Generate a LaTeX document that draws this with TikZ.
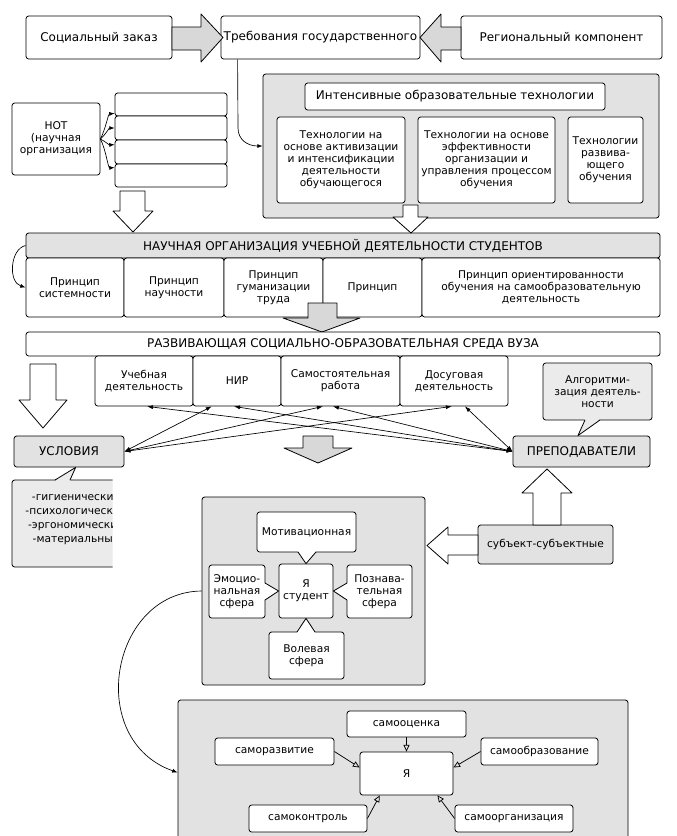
\documentclass[tikz,border=0pt]{standalone}
\usepackage{fontspec}
\setmainfont{DejaVu Sans}
\usetikzlibrary{arrows.meta,calc}
\definecolor{gA}{HTML}{E2E2E2}
\definecolor{gB}{HTML}{D8D8D8}
\definecolor{gC}{HTML}{EBEBEB}
\newcommand\fs{\fontsize{8}{9}\selectfont}
\newcommand\fb{\fontsize{9}{10}\selectfont}
\newcommand\bx[7]{\node[#1, minimum width={(#4-#2)*0.75pt}, minimum height={(#5-#3)*0.75pt}] (#6) at ({(#2+#4)/2},{(#3+#5)/2}) {#7};}
\begin{document}
\begin{tikzpicture}[x=0.75pt, y=-0.75pt, line join=round,
  bxw/.style={draw, line width=0.6pt, rounded corners=2pt, fill=white, align=center, inner sep=0pt, font=\fs},
  bxg/.style={bxw, fill=gA},
  bxc/.style={bxw, fill=gC},
  arr/.style={-{Latex[length=4pt,width=3pt]}, line width=0.5pt},
  dar/.style={{Latex[length=4.5pt,width=3pt]}-{Latex[length=4.5pt,width=3pt]}, line width=0.5pt},
  oar/.style={-{Triangle[open,length=5pt,width=4.5pt]}, line width=0.55pt},
  blk/.style={draw, line width=0.6pt, fill=gB},
  wblk/.style={blk, fill=white},
  tl/.style={line width=0.6pt}]
\useasboundingbox (0,0) rectangle (676,836);
\fill[white] (0,0) rectangle (676,836);

% top row
\bx{bxw,font=\fb}{26}{16}{172}{59}{soc}{Социальный заказ}
\bx{bxw,font=\fb}{221}{16}{420}{59}{treb}{Требования государственного}
\bx{bxw,font=\fb}{461}{16}{662}{59}{reg}{Региональный компонент}
\draw[blk] (172,27) -- (201,27) -- (201,14) -- (223,37.5) -- (201,62) -- (201,50) -- (172,50) -- cycle;
\draw[blk] (461,27) -- (441,27) -- (441,14) -- (420,37.5) -- (441,62) -- (441,50) -- (461,50) -- cycle;

% intensive technologies
\bx{bxg}{263}{74}{659}{218}{intens}{}
\bx{bxw,font=\fb}{305}{83}{605}{110}{ihead}{Интенсивные образовательные технологии}
\bx{bxw}{277}{117}{405}{203}{t1}{Технологии на\\основе активизации\\и интенсификации\\деятельности\\обучающегося}
\bx{bxw}{418}{117}{555}{203}{t2}{Технологии на основе\\эффективности\\организации и\\управления процессом\\обучения}
\bx{bxw}{568}{117}{643}{203}{t3}{Технологии\\развива-\\ющего\\обучения}
\draw[arr] ($(treb.south west)!0.085!(treb.south east)$) -- (238,128) .. controls (238,140) and (248,146) .. (intens.west);

% NOT
\bx{bxw}{12}{103}{100}{175}{not}{НОТ\\(научная\\организация}
\bx{bxw}{115}{93}{227}{116}{s1}{}
\bx{bxw}{115}{116}{227}{140}{s2}{}
\bx{bxw}{115}{140}{227}{164}{s3}{}
\bx{bxw}{115}{164}{227}{187}{s4}{}
\draw[arr] (not.east) .. controls (106,128) and (108,114) .. ($(s1.south west)+(0,-3)$);
\draw[arr] (not.east) .. controls (106,134) and (109,128) .. (s2.west);
\draw[arr] (not.east) .. controls (106,142) and (109,145) .. ($(s3.north west)+(0,5)$);
\draw[arr] (not.east) .. controls (106,150) and (108,168) .. ($(s4.north west)+(0,4)$);

% NOUDS
\bx{bxg,font=\fb}{26}{233}{660}{258}{nouds}{НАУЧНАЯ ОРГАНИЗАЦИЯ УЧЕБНОЙ ДЕЯТЕЛЬНОСТИ СТУДЕНТОВ}
\bx{bxw}{26}{258}{124}{317}{p1}{Принцип\\системности}
\bx{bxw}{124}{258}{224}{317}{p2}{Принцип\\научности}
\bx{bxw}{224}{258}{323}{317}{p3}{Принцип\\гуманизации\\труда}
\bx{bxw}{323}{258}{422}{317}{p4}{Принцип}
\bx{bxw}{422}{258}{660}{317}{p5}{Принцип ориентированности\\обучения на самообразовательную\\деятельность}
\draw[arr] (nouds.west) .. controls (10,249) and (8,282) .. (p1.west);
\draw[wblk] (120,191) -- (145,191) -- (145,211) -- (153,211) -- (133,232) -- (113,211) -- (120,211) -- cycle;
\draw[wblk] (403,205) -- (418,205) -- (418,217) -- (428,217) -- (411,233) -- (393,217) -- (403,217) -- cycle;
\draw[blk] (308,303) -- (337,303) -- (337,318) -- (360,318) -- (322,332) -- (283,318) -- (308,318) -- cycle;

% RAZV
\bx{bxw,font=\fb}{26}{332}{660}{356}{razv}{РАЗВИВАЮЩАЯ СОЦИАЛЬНО-ОБРАЗОВАТЕЛЬНАЯ СРЕДА ВУЗА}
\bx{bxw}{95}{356}{193}{406}{uch}{Учебная\\деятельность}
\bx{bxw}{193}{356}{281}{406}{nir}{НИР}
\bx{bxw}{281}{356}{400}{406}{sam}{Самостоятельная\\работа}
\bx{bxw}{400}{356}{508}{406}{dos}{Досуговая\\деятельность}

\bx{bxg,font=\fb}{14}{436}{124}{467}{usl}{УСЛОВИЯ}
\bx{bxg,font=\fb}{513}{436}{650}{467}{prep}{ПРЕПОДАВАТЕЛИ}
\bx{bxc}{543}{363}{652}{420}{alg}{Алгоритми-\\зация деятель-\\ности}
\fill[gC] (585,419) -- ($(prep.north west)!0.474!(prep.north east)$) -- (600,419) -- cycle;
\draw[tl] (585,420) -- ($(prep.north west)!0.474!(prep.north east)$) -- (600,420);

\draw[wblk] (30,364) -- (56,364) -- (56,400) -- (67,400) -- (43,428) -- (19,400) -- (30,400) -- cycle;
\draw[blk] (303,436) -- (333,436) -- (333,448) -- (352,448) -- (318,463) -- (284,448) -- (303,448) -- cycle;

\draw[dar] (usl.east) -- ($(nir.south west)!0.216!(nir.south east)$);
\draw[dar] (usl.east) -- ($(sam.south west)!0.353!(sam.south east)$);
\draw[dar] (usl.east) -- ($(dos.south west)!0.48!(dos.south east)$);
\draw[dar] (prep.west) -- ($(uch.south west)!0.53!(uch.south east)$);
\draw[dar] (prep.west) -- ($(nir.south west)!0.466!(nir.south east)$);
\draw[dar] (prep.west) -- ($(sam.south west)!0.437!(sam.south east)$);
\draw[dar] (prep.west) -- ($(dos.south west)!0.60!(dos.south east)$);

% conditions list
\begin{scope}
\clip (0,470) rectangle (112.5,575);
\bx{bxc}{12}{480}{150}{567}{ulist}{}
\node[font=\fontsize{8}{10.5}\selectfont, align=center, inner sep=0pt] (ultext) at (76,520) {-гигиенические\\-психологические\\-эргономические\\-материальные};
\end{scope}
\fill[gC] (55,481) -- ($(usl.south west)!0.56!(usl.south east)$) -- (70,481) -- cycle;
\draw[tl] (55,480) -- ($(usl.south west)!0.56!(usl.south east)$) -- (70,480);

% student box
\bx{bxg}{202}{497}{425}{685}{gst}{}
\bx{bxw}{257}{512}{356}{552}{mot}{Мотивационная}
\bx{bxw}{279}{564}{333}{618}{ys}{Я\\студент}
\bx{bxw}{209}{565}{265}{618}{emo}{Эмоцио-\\нальная\\сфера}
\bx{bxw}{347}{565}{412}{618}{pozn}{Познава-\\тельная\\сфера}
\bx{bxw}{269}{632}{344}{679}{vol}{Волевая\\сфера}
\fill[white] (298,551) -- (ys.north) -- (316,551) -- cycle;
\draw[tl] (298,552) -- (ys.north) -- (316,552);
\fill[white] (264,583) -- (ys.west) -- (264,600) -- cycle;
\draw[tl] (265,583) -- (ys.west) -- (265,600);
\fill[white] (348,583) -- (ys.east) -- (348,600) -- cycle;
\draw[tl] (347,583) -- (ys.east) -- (347,600);
\fill[white] (297,633) -- (ys.south) -- (315,633) -- cycle;
\draw[tl] (297,632) -- (ys.south) -- (315,632);

\bx{bxg}{478}{525}{613}{564}{subj}{субъект-субъектные}
\draw[wblk] (478,535) -- (448,535) -- (448,527) -- (427,545.5) -- (448,564) -- (448,555) -- (478,555) -- cycle;
\draw[wblk] (533,525) -- (533,493) -- (522,493) -- (547,469) -- (572,493) -- (561,493) -- (561,525) -- cycle;

% self box
\bx{bxg}{178}{700}{628}{845}{selfb}{}
\draw[arr] (gst.west) .. controls (110,592) and (85,740) .. (selfb.west);
\bx{bxw}{347}{711}{466}{737}{ocen}{самооценка}
\bx{bxw}{215}{738}{334}{765}{razvit}{саморазвитие}
\bx{bxw}{481}{738}{598}{765}{obraz}{самообразование}
\bx{bxw}{360}{752}{453}{795}{ya}{Я}
\bx{bxw}{249}{805}{367}{832}{kontr}{самоконтроль}
\bx{bxw}{455}{805}{573}{832}{org}{самоорганизация}
\draw[oar] (ocen.south) -- (ya.north);
\draw[oar] (razvit.east) -- ($(ya.west)+(0,-6)$);
\draw[oar] (obraz.west) -- ($(ya.east)+(0,-6)$);
\draw[oar] (kontr.east) -- ($(ya.south west)!0.215!(ya.south east)$);
\draw[oar] (org.west) -- ($(ya.south west)!0.83!(ya.south east)$);
\end{tikzpicture}
\end{document}
